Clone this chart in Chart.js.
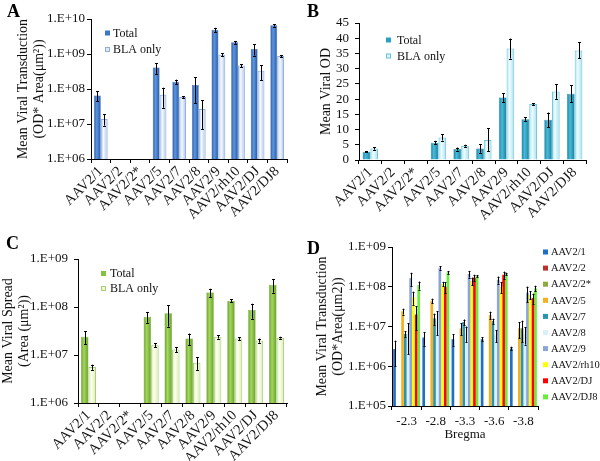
<!DOCTYPE html>
<html><head><meta charset="utf-8">
<script src="https://cdn.jsdelivr.net/npm/chart.js@4.4.1/dist/chart.umd.min.js"></script>
<style>
html,body{margin:0;padding:0;background:#fff;}
#wrap{position:relative;width:600px;height:461px;overflow:hidden;background:#fff;}
canvas{position:absolute;}
.lbl{position:absolute;font-family:"Liberation Serif",serif;font-weight:bold;font-size:18px;line-height:1;color:#000;}
</style></head><body>
<div id="wrap">
<canvas id="cA" width="300" height="230" style="left:0;top:0"></canvas>
<canvas id="cB" width="300" height="230" style="left:300px;top:0"></canvas>
<canvas id="cC" width="300" height="231" style="left:0;top:230px"></canvas>
<canvas id="cD" width="300" height="231" style="left:300px;top:230px"></canvas>
<div class="lbl" style="left:7px;top:2px">A</div>
<div class="lbl" style="left:307px;top:2px">B</div>
<div class="lbl" style="left:6px;top:234px">C</div>
<div class="lbl" style="left:307px;top:239px">D</div>
</div>
<script>
// ---------- DATA ----------
const vectors = ['AAV2/1','AAV2/2','AAV2/2*','AAV2/5','AAV2/7','AAV2/8','AAV2/9','AAV2/rh10','AAV2/DJ','AAV2/DJ8'];

// Panel A: Mean Viral Transduction (OD*Area)
const aTotal    = [6.5e7, null, null, 4.1e8, 1.6e8, 1.3e8, 4.9e9, 2.15e9, 1.4e9, 6.6e9];
const aTotalErr = [2e7, 0, 0, 1.4e8, 2.5e7, 9e7, 7e8, 2e8, 5e8, 5e8];
const aBla      = [1.4e7, null, null, 6.9e7, 5.9e7, 2.7e7, 9.5e8, 4.7e8, 3.3e8, 8.7e8];
const aBlaErr   = [5e6, 0, 0, 4e7, 3e6, 2e7, 1e8, 5e7, 1.5e8, 5e7];
const aYTicks   = [1e6, 1e7, 1e8, 1e9, 1e10];

// Panel B: Mean Viral OD
const bTotal    = [2.7, null, null, 5.7, 3.6, 3.8, 20.5, 13.4, 13.2, 21.8];
const bTotalErr = [0.2, 0, 0, 0.6, 0.5, 1.4, 1.5, 0.6, 2.4, 2.8];
const bBla      = [3.8, null, null, 7.4, 4.7, 6.6, 36.6, 18.4, 22.5, 36.0];
const bBlaErr   = [0.4, 0, 0, 1.0, 0.3, 3.8, 3.3, 0.3, 2.4, 2.6];

// Panel C: Mean Viral Spread (Area)
const cTotal    = [2.4e7, null, null, 6.3e7, 7.4e7, 2.2e7, 2.0e8, 1.35e8, 8.7e7, 2.9e8];
const cTotalErr = [7e6, 0, 0, 1.6e7, 3.5e7, 6e6, 4e7, 1e7, 3e7, 9e7];
const cBla      = [5.6e6, null, null, 1.6e7, 1.3e7, 6.9e6, 2.4e7, 2.2e7, 2.0e7, 2.3e7];
const cBlaErr   = [7e5, 0, 0, 1.5e6, 1.5e6, 2e6, 2e6, 1.5e6, 2e6, 1e6];
const cYTicks   = [1e6, 1e7, 1e8, 1e9];

// Panel D: transduction by Bregma level
const bregma  = ['-2.3', '-2.8', '-3.3', '-3.6', '-3.8'];
const d1      = [2.7e6, 5.3e6, 4.8e6, 4.8e6, 2.8e6];
const d2      = [null, null, null, null, null];
const d2s     = [null, null, null, null, null];
const d5      = [2.4e7, 4.4e7, 9e6, 1.95e7, 9e6];
const d7      = [6.5e6, 1.6e7, 1.3e7, 1.37e7, 9e6];
const d8      = [7e6, 1.5e7, 7e6, 6e6, 6.5e6];
const d9      = [1.65e8, 3.0e8, 2.1e8, 1.5e8, 7.1e7];
const drh10   = [5.5e7, 1.18e8, 1.4e8, 1.0e8, 6.3e7];
const dDJ     = [2.0e7, 1.0e8, 1.7e8, 2.0e8, 5.2e7];
const dDJ8    = [1.1e8, 2.3e8, 1.85e8, 2.1e8, 9.1e7];
const d1Err   = [1.7e6, 2e6, 1.5e6, 6e5, 3e5];
const d2Err   = [0, 0, 0, 0, 0];
const d5Err   = [4e6, 6e6, 3e6, 4e6, 4e6];
const d7Err   = [1e6, 5e6, 2e6, 2e6, 5e6];
const d8Err   = [5e6, 9e6, 3e6, 2e6, 3e6];
const d9Err   = [6e7, 3e7, 4e7, 3e7, 3e7];
const drh10Err= [2e7, 1.5e7, 3e7, 3e7, 1.5e7];
const dDJErr  = [1.2e7, 3e7, 3e7, 4e7, 1.5e7];
const dDJ8Err = [2.5e7, 2e7, 1e7, 1.5e7, 1.5e7];
const dYTicks = [1e5, 1e6, 1e7, 1e8, 1e9];

// ---------- HELPERS ----------
Chart.defaults.font.family = '"Liberation Serif", "Times New Roman", serif';
Chart.defaults.color = '#111';
Chart.defaults.animation = false;

function expLabel(v){ const e = Math.round(Math.log10(v)); return '1.E+' + String(e).padStart(2,'0'); }

function grad(edge, mid){
  return (c) => {
    const el = c.element;
    if (!el || typeof el.x !== 'number' || !isFinite(el.x) || !el.width) return mid;
    const g = c.chart.ctx.createLinearGradient(el.x - el.width/2, 0, el.x + el.width/2, 0);
    g.addColorStop(0, edge); g.addColorStop(0.4, mid); g.addColorStop(1, edge);
    return g;
  };
}

const errorBars = {
  id: 'errorBars',
  afterDatasetsDraw(chart, args, opts){
    const ctx = chart.ctx, y = chart.scales.y;
    ctx.save();
    ctx.strokeStyle = '#000'; ctx.lineWidth = 1;
    chart.data.datasets.forEach((ds, i) => {
      if (!ds.errors) return;
      const meta = chart.getDatasetMeta(i);
      meta.data.forEach((el, j) => {
        const v = ds.data[j], e = ds.errors[j];
        if (v == null || !e) return;
        let lo = v - e;
        if (lo < y.min) lo = y.min;
        const yHi = y.getPixelForValue(v + e), yLo = y.getPixelForValue(lo);
        const x = Math.round(el.x) + 0.5, c = opts.cap || 1.5;
        ctx.beginPath();
        ctx.moveTo(x, yHi); ctx.lineTo(x, yLo);
        ctx.moveTo(x - c, Math.round(yHi)+0.5); ctx.lineTo(x + c, Math.round(yHi)+0.5);
        ctx.moveTo(x - c, Math.round(yLo)+0.5); ctx.lineTo(x + c, Math.round(yLo)+0.5);
        ctx.stroke();
      });
    });
    ctx.restore();
  }
};

const insetLegend = {
  id: 'insetLegend',
  afterDraw(chart, args, o){
    const ctx = chart.ctx;
    ctx.save();
    ctx.font = o.size + 'px "Liberation Serif", serif';
    ctx.textBaseline = 'middle'; ctx.textAlign = 'left';
    chart.data.datasets.forEach((ds, i) => {
      const cy = o.y + i * o.dy;
      ctx.fillStyle = ds.legendFill;
      ctx.fillRect(o.x, cy - o.box/2, o.box, o.box);
      if (ds.legendStroke){
        ctx.strokeStyle = ds.legendStroke; ctx.lineWidth = 1;
        ctx.strokeRect(o.x + 0.5, cy - o.box/2 + 0.5, o.box - 1, o.box - 1);
      }
      ctx.fillStyle = '#111';
      ctx.fillText(ds.label, o.x + o.box + o.gap, cy + 0.5);
    });
    ctx.restore();
  }
};

function yLog(min, max, ticksArr, width, tickPad, title, titlePadTop){
  return {
    type: 'logarithmic', min: min, max: max,
    afterBuildTicks: s => { s.ticks = ticksArr.map(v => ({value: v})); },
    afterFit: s => { s.width = width; },
    ticks: { autoSkip: false, callback: v => expLabel(v), font: {size: 13}, padding: tickPad, color: '#111' },
    grid: { drawOnChartArea: false, drawTicks: true, tickLength: 4, color: '#000' },
    border: { display: true, color: '#000', width: 1 },
    title: { display: true, text: title, font: {size: 14, lineHeight: 1.15}, padding: {top: titlePadTop, bottom: 0}, color: '#111' }
  };
}
function xCat(height){
  return {
    type: 'category',
    afterFit: s => { s.height = height; },
    ticks: { autoSkip: false, maxRotation: 45, minRotation: 45, font: {size: 14.5}, padding: 0, color: '#111' },
    grid: { drawOnChartArea: false, drawTicks: true, tickLength: 4, color: '#000', offset: true },
    border: { display: true, color: '#000', width: 1 }
  };
}
function pairDatasets(tot, totErr, bla, blaErr, col, cp){
  return [
    {label: 'Total', data: tot, errors: totErr, backgroundColor: grad(col.tEdge, col.tMid), borderColor: col.tEdge, borderWidth: 0.5,
     categoryPercentage: cp, barPercentage: 1, legendFill: col.tLeg},
    {label: 'BLA only', data: bla, errors: blaErr, backgroundColor: grad(col.bEdge, col.bMid), borderColor: col.bBorder, borderWidth: 1,
     categoryPercentage: cp, barPercentage: 1, legendFill: col.bLeg, legendStroke: col.bBorder}
  ];
}
const charts = [];

// ---------- PANEL A ----------
charts.push(new Chart(document.getElementById('cA'), {
  type: 'bar',
  data: { labels: vectors, datasets: pairDatasets(aTotal, aTotalErr, aBla, aBlaErr,
    {tEdge:'#2857a6', tMid:'#5c96de', tLeg:'#3a78c8', bEdge:'#a9c3e9', bMid:'#f6f9fe', bBorder:'#8eaedd', bLeg:'#dce8f8'}, 0.7) },
  options: {
    responsive: false, animation: false,
    layout: { padding: {left: 0, right: 13, top: 19, bottom: 0} },
    scales: { x: xCat(71), y: yLog(1e6, 1e10, aYTicks, 91, 2, ['Mean Viral Transduction', '(OD* Area(μm²))'], 15) },
    plugins: { legend: {display: false}, tooltip: {enabled: false},
      insetLegend: {x: 105, y: 33, dy: 16.5, box: 5, gap: 3, size: 12}, errorBars: {cap: 1.5} }
  },
  plugins: [errorBars, insetLegend]
}));

// ---------- PANEL B ----------
charts.push(new Chart(document.getElementById('cB'), {
  type: 'bar',
  data: { labels: vectors, datasets: pairDatasets(bTotal, bTotalErr, bBla, bBlaErr,
    {tEdge:'#15809f', tMid:'#4bbad8', tLeg:'#2aa0c2', bEdge:'#a2e0ee', bMid:'#effcff', bBorder:'#6cc4da', bLeg:'#d4f3fa'}, 0.68) },
  options: {
    responsive: false, animation: false,
    layout: { padding: {left: 0, right: 14, top: 23, bottom: 0} },
    scales: {
      x: xCat(70),
      y: { type: 'linear', min: 0, max: 45,
        afterFit: s => { s.width = 59; },
        ticks: { stepSize: 5, autoSkip: false, font: {size: 13}, padding: 6, color: '#111' },
        grid: { drawOnChartArea: false, drawTicks: true, tickLength: 4, color: '#000' },
        border: { display: true, color: '#000', width: 1 },
        title: { display: true, text: 'Mean Viral OD', font: {size: 14, lineHeight: 1.15}, padding: {top: 18, bottom: 0}, color: '#111' } }
    },
    plugins: { legend: {display: false}, tooltip: {enabled: false},
      insetLegend: {x: 86, y: 40, dy: 16, box: 5, gap: 6, size: 12}, errorBars: {cap: 1.5} }
  },
  plugins: [errorBars, insetLegend]
}));

// ---------- PANEL C ----------
charts.push(new Chart(document.getElementById('cC'), {
  type: 'bar',
  data: { labels: vectors, datasets: pairDatasets(cTotal, cTotalErr, cBla, cBlaErr,
    {tEdge:'#66a026', tMid:'#a4d660', tLeg:'#86c040', bEdge:'#d9ecb0', bMid:'#fcfff0', bBorder:'#a8cb78', bLeg:'#eef7d6'}, 0.72) },
  options: {
    responsive: false, animation: false,
    layout: { padding: {left: 0, right: 13, top: 29, bottom: 0} },
    scales: { x: xCat(58), y: yLog(1e6, 1e9, cYTicks, 78, 6, ['Mean Viral Spread', '(Area (μm²))'], 0) },
    plugins: { legend: {display: false}, tooltip: {enabled: false},
      insetLegend: {x: 101, y: 43.5, dy: 15, box: 5, gap: 4, size: 12}, errorBars: {cap: 1.5} }
  },
  plugins: [errorBars, insetLegend]
}));

// ---------- PANEL D ----------
const dSeries = [
  ['AAV2/1', d1, d1Err, '#1f6fc2'],
  ['AAV2/2', d2, d2Err, '#b8332c'],
  ['AAV2/2*', d2s, d2Err, '#8aac3e'],
  ['AAV2/5', d5, d5Err, '#f4b01e'],
  ['AAV2/7', d7, d7Err, '#2894b0'],
  ['AAV2/8', d8, d8Err, '#d8f1f8'],
  ['AAV2/9', d9, d9Err, '#8ba5d8'],
  ['AAV2/rh10', drh10, drh10Err, '#ffff00'],
  ['AAV2/DJ', dDJ, dDJErr, '#ff0000'],
  ['AAV2/DJ8', dDJ8, dDJ8Err, '#66ee3a']
];
charts.push(new Chart(document.getElementById('cD'), {
  type: 'bar',
  data: { labels: bregma, datasets: dSeries.map(s => ({
    label: s[0], data: s[1], errors: s[2], backgroundColor: s[3], borderWidth: 0,
    categoryPercentage: 0.92, barPercentage: 1, legendFill: s[3]
  })) },
  options: {
    responsive: false, animation: false,
    layout: { padding: {left: 0, right: 62, top: 17, bottom: 0} },
    scales: {
      x: { type: 'category',
        afterFit: s => { s.height = 55; },
        ticks: { autoSkip: false, maxRotation: 0, minRotation: 0, font: {size: 13}, padding: 4, color: '#111' },
        grid: { drawOnChartArea: false, drawTicks: true, tickLength: 4, color: '#000', offset: true },
        border: { display: true, color: '#000', width: 1 },
        title: { display: true, text: 'Bregma', font: {size: 13}, padding: {top: 0, bottom: 19}, color: '#111' } },
      y: yLog(1e5, 1e9, dYTicks, 92, 2, ['Mean Viral Transduction', '(OD*Area(μm2))'], 14)
    },
    plugins: { legend: {display: false}, tooltip: {enabled: false},
      insetLegend: {x: 243, y: 22, dy: 16.1, box: 5, gap: 3, size: 10.5}, errorBars: {cap: 1} }
  },
  plugins: [errorBars, insetLegend]
}));

charts.forEach(c => c.update('none'));
</script>
</body></html>
